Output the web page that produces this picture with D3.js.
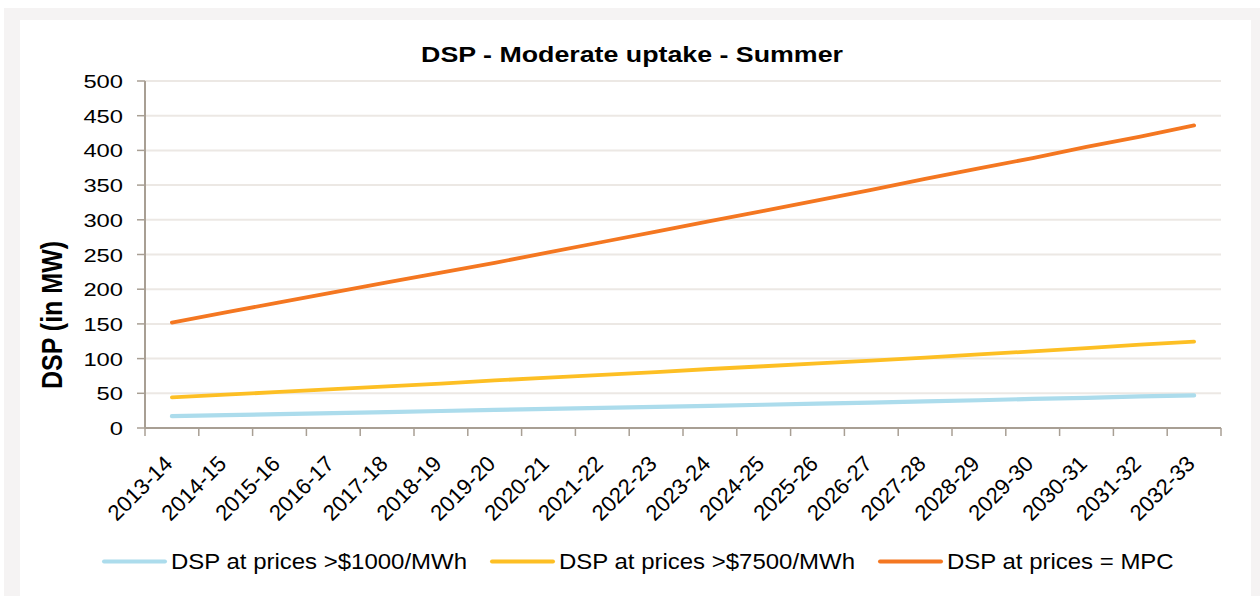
<!DOCTYPE html>
<html>
  <head>
    <script src="https://d3js.org/d3.v7.min.js"></script>
  </head>
  <body>
    <svg id="viz" width="1260" height="596"></svg>
  </body>
  <script>
    const years = [
      "2013-14", "2014-15", "2015-16", "2016-17", "2017-18",
      "2018-19", "2019-20", "2020-21", "2021-22", "2022-23",
      "2023-24", "2024-25", "2025-26", "2026-27", "2027-28",
      "2028-29", "2029-30", "2030-31", "2031-32", "2032-33",
    ];
    const dsp1000 = [
      17, 18.5, 20, 21.5, 23, 24.5, 26, 27.5, 29, 30.5,
      32, 33.5, 35, 36.5, 38.5, 40, 42, 43.5, 45.5, 47,
    ];
    const dsp7500 = [
      44, 48, 52, 56, 60, 64, 68.5, 72.5, 76.5, 80.5,
      85, 89, 93, 97, 101.5, 106, 110.5, 115, 120, 124.5,
    ];
    const dspMpc = [
      152, 166.5, 181, 195.5, 210, 224, 238, 253, 268, 283,
      298, 313, 328, 343, 359, 374, 389, 405, 420, 436,
    ];
    const yTicks = [0, 50, 100, 150, 200, 250, 300, 350, 400, 450, 500];
    const seriesNames = [
      "DSP at prices >$1000/MWh",
      "DSP at prices >$7500/MWh",
      "DSP at prices = MPC",
    ];
    const seriesColors = ["#acdcec", "#fdbf24", "#f47721"];

    function draw() {
      const svg = d3.select("svg#viz");
      const font = "'Liberation Sans', Arial, sans-serif";

      // frame
      svg.append("rect").attr("x", 4).attr("y", 8).attr("width", 1256).attr("height", 600).attr("fill", "#f5f3f3");
      svg.append("rect").attr("x", 20).attr("y", 20).attr("width", 1231).attr("height", 590).attr("fill", "#fff");

      const left = 145, right = 1221, top = 81, bottom = 428;

      const x = d3.scaleBand().domain(years).range([left, right]);
      const y = d3.scaleLinear().domain([0, 500]).range([bottom, top]);
      const cx = (d) => x(d) + x.bandwidth() / 2;

      // gridlines
      svg.append("g")
        .selectAll("line")
        .data(yTicks.filter((t) => t > 0))
        .join("line")
        .attr("x1", left).attr("x2", right)
        .attr("y1", (d) => y(d)).attr("y2", (d) => y(d))
        .attr("stroke", "#ece8e4").attr("stroke-width", 2);

      const axisColor = "#a89f94";
      // y axis
      svg.append("line").attr("x1", left).attr("x2", left).attr("y1", top).attr("y2", bottom)
        .attr("stroke", axisColor).attr("stroke-width", 2);
      svg.append("g")
        .selectAll("line")
        .data(yTicks)
        .join("line")
        .attr("x1", left - 8).attr("x2", left)
        .attr("y1", (d) => y(d)).attr("y2", (d) => y(d))
        .attr("stroke", axisColor).attr("stroke-width", 1.5);
      svg.append("g")
        .selectAll("text")
        .data(yTicks)
        .join("text")
        .attr("transform", (d) => `translate(123,${y(d) + 7}) scale(1.25,1)`)
        .attr("text-anchor", "end")
        .attr("font-family", font).attr("font-size", 19)
        .text((d) => d);

      // x axis
      svg.append("line").attr("x1", left).attr("x2", right).attr("y1", bottom).attr("y2", bottom)
        .attr("stroke", axisColor).attr("stroke-width", 2);
      svg.append("g")
        .selectAll("line")
        .data(years.map((d) => x(d)).concat([right]))
        .join("line")
        .attr("x1", (d) => d).attr("x2", (d) => d)
        .attr("y1", bottom).attr("y2", bottom + 8)
        .attr("stroke", axisColor).attr("stroke-width", 1.5);
      svg.append("g")
        .selectAll("text")
        .data(years)
        .join("text")
        .attr("transform", (d) => `translate(${cx(d) + 2},465) rotate(-45)`)
        .attr("text-anchor", "end")
        .attr("font-family", font).attr("font-size", 22)
        .text((d) => d);

      // lines
      const line = d3.line().x((d, i) => cx(years[i])).y((d) => y(d));
      const series = [dsp1000, dsp7500, dspMpc];
      svg.append("g")
        .selectAll("path")
        .data(series)
        .join("path")
        .attr("d", line)
        .attr("fill", "none")
        .attr("stroke", (d, i) => seriesColors[i])
        .attr("stroke-width", (d, i) => (i === 0 ? 4.2 : 3.8))
        .attr("stroke-linecap", "round");

      // title
      svg.append("text")
        .attr("transform", "translate(632,62) scale(1.19,1)")
        .attr("text-anchor", "middle")
        .attr("font-family", font).attr("font-size", 22.5).attr("font-weight", "bold")
        .text("DSP - Moderate uptake - Summer");

      // y axis title
      svg.append("text")
        .attr("transform", "translate(62,315) scale(1.2,1) rotate(-90)")
        .attr("text-anchor", "middle")
        .attr("font-family", font).attr("font-size", 25).attr("font-weight", "bold")
        .text("DSP (in MW)");

      // legend
      const legendX = [104, 492, 880];
      const lg = svg.append("g")
        .selectAll("g")
        .data(seriesNames)
        .join("g")
        .attr("transform", (d, i) => `translate(${legendX[i]},561.5)`);
      lg.append("line")
        .attr("x1", 0).attr("x2", 61).attr("y1", 0).attr("y2", 0)
        .attr("stroke", (d, i) => seriesColors[i])
        .attr("stroke-width", 4).attr("stroke-linecap", "round");
      lg.append("text")
        .attr("transform", "translate(67,7) scale(1.09,1)")
        .attr("font-family", font).attr("font-size", 22)
        .text((d) => d);
    }

    draw();
  </script>
  <style>
    body {
      margin: 0px;
    }
  </style>
</html>
